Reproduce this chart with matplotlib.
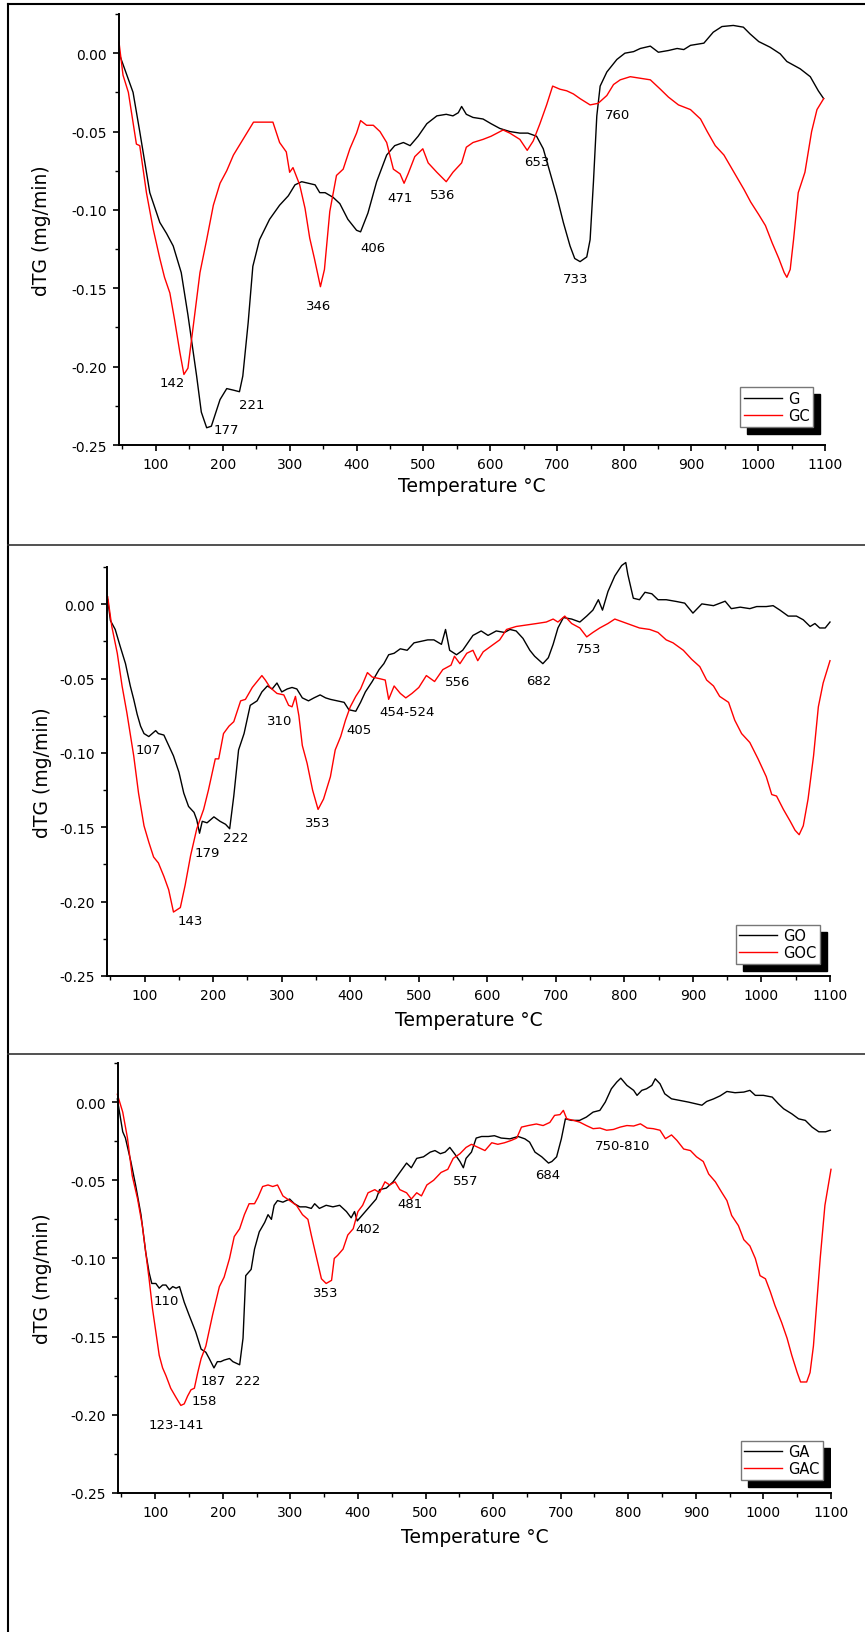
import matplotlib
matplotlib.use("Agg")
import matplotlib.pyplot as plt
from matplotlib.lines import Line2D
from matplotlib.patches import Shadow
from matplotlib.ticker import MultipleLocator, FormatStrFormatter

plt.rcParams['font.family'] = ['DejaVu Sans']
plt.rcParams['axes.unicode_minus'] = False

# ---- panel 1: G / GC ----
g_t = [45, 66, 76, 91, 106, 116, 126, 138, 148, 161,
       168, 176, 183, 196, 206, 216, 225, 230, 238, 245,
       255, 270, 285, 298, 308, 318, 328, 338, 345, 353,
       365, 375, 387, 400, 406, 417, 430, 445, 457, 470,
       480, 492, 505, 520, 534, 544, 552, 557, 564, 574,
       589, 601, 614, 629, 644, 656, 669, 679, 689, 699,
       709, 719, 726, 734, 744, 749, 754, 759, 764, 774,
       789, 801, 814, 824, 839, 851, 866, 879, 889, 899,
       919, 933, 946, 963, 978, 988, 1001, 1018, 1033, 1043,
       1063, 1078, 1090, 1098]
g_v = [0.000, -0.025, -0.050, -0.089, -0.108, -0.115, -0.123, -0.140, -0.167, -0.206,
       -0.229, -0.239, -0.238, -0.221, -0.214, -0.215, -0.216, -0.206, -0.172, -0.136,
       -0.119, -0.106, -0.097, -0.091, -0.084, -0.082, -0.083, -0.084, -0.089, -0.089,
       -0.092, -0.096, -0.106, -0.113, -0.114, -0.102, -0.082, -0.065, -0.059, -0.057,
       -0.059, -0.053, -0.045, -0.040, -0.039, -0.040, -0.038, -0.034, -0.039, -0.041,
       -0.042, -0.045, -0.048, -0.050, -0.051, -0.051, -0.053, -0.061, -0.076, -0.091,
       -0.108, -0.123, -0.131, -0.133, -0.130, -0.119, -0.082, -0.040, -0.021, -0.012,
       -0.004, 0.000, 0.001, 0.003, 0.0045, 0.0006, 0.0017, 0.003, 0.0023, 0.005,
       0.0064, 0.0134, 0.017, 0.0177, 0.0166, 0.0123, 0.0074, 0.0038, -0.0004, -0.0053,
       -0.010, -0.015, -0.024, -0.029]

gc_t = [45, 51, 59, 71, 76, 86, 96, 106, 113, 121,
        128, 136, 142, 148, 156, 166, 176, 186, 196, 206,
        216, 226, 236, 246, 256, 265, 275, 285, 295, 300,
        305, 315, 323, 330, 337, 346, 352, 360, 370, 380,
        390, 400, 406, 415, 425, 435, 445, 455, 465, 471,
        477, 487, 499, 507, 520, 534, 544, 557, 564, 574,
        589, 601, 619, 629, 644, 655, 664, 674, 684, 693,
        704, 714, 724, 734, 749, 761, 774, 784, 794, 809,
        824, 839, 854, 866, 881, 899, 914, 924, 936, 949,
        964, 979, 989, 1001, 1011, 1021, 1031, 1039, 1043, 1048,
        1053, 1060, 1070, 1080, 1088, 1098]
gc_v = [0.007, -0.014, -0.025, -0.058, -0.059, -0.089, -0.112, -0.131, -0.143, -0.153,
        -0.170, -0.191, -0.205, -0.201, -0.174, -0.140, -0.119, -0.097, -0.083, -0.075,
        -0.065, -0.058, -0.051, -0.044, -0.044, -0.044, -0.044, -0.057, -0.063, -0.076,
        -0.073, -0.084, -0.099, -0.118, -0.131, -0.149, -0.138, -0.101, -0.078, -0.074,
        -0.061, -0.051, -0.043, -0.046, -0.046, -0.050, -0.057, -0.074, -0.077, -0.083,
        -0.077, -0.066, -0.061, -0.070, -0.076, -0.082, -0.076, -0.070, -0.060, -0.057,
        -0.055, -0.053, -0.049, -0.051, -0.055, -0.062, -0.056, -0.045, -0.033, -0.021,
        -0.023, -0.024, -0.026, -0.029, -0.033, -0.032, -0.027, -0.020, -0.017, -0.015,
        -0.016, -0.017, -0.023, -0.028, -0.033, -0.036, -0.042, -0.050, -0.059, -0.065,
        -0.076, -0.087, -0.095, -0.103, -0.110, -0.121, -0.131, -0.140, -0.143, -0.138,
        -0.119, -0.089, -0.076, -0.050, -0.036, -0.029]

# ---- panel 2: GO / GOC ----
go_t = [46, 50, 57, 64, 72, 79, 84, 89, 94, 99,
        106, 111, 116, 120, 128, 135, 142, 150, 157, 164,
        172, 176, 180, 184, 191, 201, 210, 218, 224, 230,
        237, 245, 254, 264, 271, 279, 286, 293, 300, 308,
        315, 322, 330, 339, 347, 356, 364, 371, 381, 391,
        398, 408, 415, 422, 432, 442, 449, 456, 464, 473,
        483, 493, 503, 513, 522, 533, 539, 545, 555, 564,
        579, 591, 601, 613, 625, 633, 642, 652, 662, 669,
        681, 689, 696, 703, 711, 723, 735, 745, 754, 762,
        768, 776, 786, 796, 802, 805, 813, 822, 830, 840,
        849, 861, 876, 888, 900, 913, 930, 947, 956, 969,
        983, 993, 1007, 1017, 1027, 1039, 1051, 1061, 1071, 1078,
        1085, 1093, 1100]
go_v = [0.003, -0.011, -0.017, -0.028, -0.040, -0.055, -0.064, -0.074, -0.082, -0.087,
        -0.089, -0.087, -0.085, -0.087, -0.088, -0.095, -0.102, -0.113, -0.127, -0.136,
        -0.140, -0.145, -0.154, -0.146, -0.147, -0.143, -0.146, -0.148, -0.151, -0.129,
        -0.098, -0.087, -0.068, -0.065, -0.059, -0.055, -0.057, -0.053, -0.059, -0.057,
        -0.056, -0.057, -0.063, -0.065, -0.063, -0.061, -0.063, -0.064, -0.065, -0.066,
        -0.071, -0.072, -0.066, -0.059, -0.052, -0.044, -0.040, -0.034, -0.033, -0.030,
        -0.031, -0.026, -0.025, -0.024, -0.024, -0.027, -0.017, -0.031, -0.034, -0.031,
        -0.021, -0.018, -0.021, -0.018, -0.019, -0.017, -0.018, -0.023, -0.031, -0.035,
        -0.040, -0.036, -0.027, -0.016, -0.009, -0.010, -0.012, -0.008, -0.004, 0.003,
        -0.004, 0.0085, 0.019, 0.026, 0.028, 0.020, 0.004, 0.003, 0.008, 0.007,
        0.003, 0.003, 0.0018, 0.0007, -0.006, 0.0002, -0.001, 0.002, -0.003, -0.002,
        -0.003, -0.0016, -0.0016, -0.001, -0.004, -0.008, -0.008, -0.0105, -0.015, -0.013,
        -0.016, -0.016, -0.012]

goc_t = [46, 52, 60, 67, 74, 84, 91, 99, 106, 113,
         120, 128, 135, 142, 152, 159, 167, 176, 186, 193,
         203, 208, 215, 223, 230, 240, 247, 257, 264, 271,
         276, 283, 293, 303, 310, 315, 320, 325, 330, 337,
         345, 353, 361, 371, 378, 386, 393, 400, 408, 415,
         425, 432, 442, 451, 456, 464, 473, 481, 490, 500,
         511, 523, 535, 547, 552, 560, 570, 579, 586, 594,
         606, 618, 628, 642, 657, 672, 686, 696, 703, 713,
         723, 735, 745, 754, 764, 776, 786, 798, 810, 822,
         837, 849, 861, 871, 886, 898, 910, 920, 930, 939,
         952, 961, 971, 983, 995, 1007, 1015, 1022, 1032, 1042,
         1049, 1055, 1061, 1068, 1076, 1083, 1090, 1100]
goc_v = [0.005, -0.015, -0.033, -0.055, -0.073, -0.102, -0.127, -0.149, -0.160, -0.170,
         -0.174, -0.183, -0.192, -0.207, -0.204, -0.189, -0.169, -0.151, -0.138, -0.125,
         -0.104, -0.104, -0.087, -0.082, -0.079, -0.065, -0.064, -0.056, -0.052, -0.048,
         -0.051, -0.056, -0.060, -0.061, -0.068, -0.069, -0.062, -0.075, -0.095, -0.107,
         -0.125, -0.138, -0.131, -0.116, -0.098, -0.089, -0.078, -0.069, -0.062, -0.057,
         -0.046, -0.049, -0.050, -0.051, -0.064, -0.055, -0.060, -0.063, -0.060, -0.056,
         -0.048, -0.052, -0.044, -0.041, -0.035, -0.040, -0.033, -0.031, -0.038, -0.032,
         -0.028, -0.024, -0.017, -0.015, -0.014, -0.013, -0.012, -0.010, -0.012, -0.008,
         -0.013, -0.016, -0.022, -0.019, -0.016, -0.013, -0.010, -0.012, -0.014, -0.016,
         -0.017, -0.019, -0.024, -0.026, -0.031, -0.037, -0.042, -0.051, -0.055, -0.062,
         -0.066, -0.078, -0.087, -0.093, -0.104, -0.116, -0.128, -0.129, -0.138, -0.146,
         -0.152, -0.155, -0.149, -0.131, -0.102, -0.069, -0.053, -0.038]

# ---- panel 3: GA / GAC ----
ga_t = [44, 48, 52, 56, 64, 71, 79, 86, 91, 95,
        101, 106, 111, 116, 121, 126, 131, 136, 143, 150,
        160, 168, 175, 180, 187, 192, 197, 202, 210, 215,
        220, 225, 230, 234, 242, 247, 254, 262, 267, 272,
        276, 281, 289, 299, 306, 314, 323, 331, 336, 343,
        353, 363, 373, 383, 390, 395, 399, 407, 417, 427,
        432, 442, 452, 462, 472, 479, 487, 497, 507, 514,
        522, 529, 536, 543, 551, 556, 560, 568, 575, 583,
        593, 602, 612, 625, 637, 647, 654, 662, 672, 682,
        687, 694, 701, 707, 716, 728, 738, 748, 758, 766,
        775, 783, 789, 798, 808, 813, 820, 827, 835, 840,
        847, 854, 864, 877, 889, 899, 909, 916, 926, 936,
        946, 958, 971, 980, 988, 1000, 1013, 1022, 1030, 1042,
        1052, 1062, 1072, 1082, 1092, 1099]
ga_v = [0.002, -0.0085, -0.019, -0.023, -0.038, -0.053, -0.072, -0.096, -0.109, -0.116,
        -0.116, -0.119, -0.117, -0.117, -0.120, -0.118, -0.119, -0.118, -0.128, -0.136,
        -0.147, -0.158, -0.160, -0.164, -0.170, -0.166, -0.166, -0.165, -0.164, -0.166,
        -0.167, -0.168, -0.151, -0.111, -0.107, -0.094, -0.083, -0.077, -0.072, -0.075,
        -0.066, -0.063, -0.064, -0.062, -0.065, -0.067, -0.067, -0.068, -0.065, -0.068,
        -0.066, -0.067, -0.066, -0.070, -0.074, -0.070, -0.076, -0.072, -0.067, -0.062,
        -0.056, -0.055, -0.051, -0.045, -0.039, -0.042, -0.036, -0.035, -0.032, -0.031,
        -0.033, -0.032, -0.029, -0.033, -0.038, -0.042, -0.036, -0.032, -0.023, -0.022,
        -0.022, -0.0215, -0.023, -0.0235, -0.022, -0.0235, -0.0256, -0.032, -0.035, -0.039,
        -0.038, -0.035, -0.0235, -0.0107, -0.0117, -0.0117, -0.0096, -0.0064, -0.0053, 0.000,
        0.0085, 0.0128, 0.0153, 0.0107, 0.0075, 0.0043, 0.0075, 0.0085, 0.0107, 0.0149,
        0.0117, 0.0053, 0.0021, 0.001, 0.000, -0.001, -0.002, 0.0004, 0.002, 0.004,
        0.0068, 0.006, 0.0064, 0.0075, 0.0043, 0.0043, 0.0032, -0.001, -0.0043, -0.0075,
        -0.0107, -0.0117, -0.016, -0.019, -0.019, -0.018]

gac_t = [44, 52, 59, 66, 74, 81, 86, 91, 96, 101,
         106, 111, 116, 123, 131, 138, 143, 148, 153, 158,
         163, 168, 175, 185, 195, 202, 210, 217, 225, 232,
         239, 247, 252, 259, 267, 274, 281, 289, 299, 309,
         318, 326, 331, 338, 346, 353, 361, 365, 370, 378,
         385, 393, 400, 407, 415, 425, 432, 440, 447, 455,
         462, 472, 479, 487, 494, 502, 512, 523, 533, 541,
         551, 560, 568, 578, 588, 598, 607, 617, 627, 635,
         642, 652, 664, 674, 684, 691, 699, 704, 709, 719,
         728, 738, 748, 758, 768, 778, 788, 798, 808, 818,
         828, 837, 847, 855, 864, 872, 882, 892, 901, 911,
         919, 929, 938, 946, 953, 963, 971, 980, 988, 995,
         1003, 1010, 1017, 1027, 1035, 1042, 1050, 1055, 1064, 1069,
         1074, 1079, 1084, 1091, 1100]
gac_v = [0.005, -0.0064, -0.023, -0.047, -0.062, -0.079, -0.096, -0.113, -0.132, -0.147,
         -0.162, -0.170, -0.175, -0.183, -0.189, -0.194, -0.193, -0.188, -0.184, -0.183,
         -0.173, -0.164, -0.156, -0.136, -0.118, -0.112, -0.100, -0.086, -0.081, -0.072,
         -0.065, -0.065, -0.061, -0.054, -0.053, -0.054, -0.053, -0.060, -0.063, -0.066,
         -0.072, -0.075, -0.085, -0.098, -0.113, -0.116, -0.114, -0.100, -0.098, -0.094,
         -0.085, -0.081, -0.070, -0.066, -0.058, -0.056, -0.058, -0.051, -0.053, -0.051,
         -0.056, -0.058, -0.062, -0.058, -0.060, -0.053, -0.050, -0.045, -0.043, -0.036,
         -0.033, -0.029, -0.027, -0.029, -0.031, -0.026, -0.027, -0.026, -0.0245, -0.023,
         -0.016, -0.015, -0.014, -0.015, -0.013, -0.0085, -0.008, -0.0053, -0.0107, -0.0117,
         -0.0128, -0.015, -0.017, -0.0166, -0.018, -0.0175, -0.016, -0.015, -0.0153, -0.0139,
         -0.0166, -0.017, -0.018, -0.0234, -0.021, -0.0245, -0.030, -0.031, -0.035, -0.038,
         -0.046, -0.051, -0.0575, -0.063, -0.0725, -0.079, -0.088, -0.092, -0.100, -0.111,
         -0.113, -0.121, -0.130, -0.141, -0.151, -0.162, -0.173, -0.179, -0.179, -0.173,
         -0.156, -0.128, -0.100, -0.066, -0.043]

# peak labels: (text, temperature, dTG)
labels1 = [("142", 124, -0.210), ("177", 205, -0.240), ("221", 244, -0.224),
           ("346", 344, -0.161), ("406", 425, -0.124), ("471", 465, -0.092),
           ("536", 529, -0.090), ("653", 669, -0.069), ("733", 727, -0.144),
           ("760", 790, -0.039)]
labels2 = [("107", 105, -0.098), ("179", 192, -0.167), ("222", 233, -0.157),
           ("143", 167, -0.213), ("310", 297, -0.078), ("353", 352, -0.147),
           ("405", 412, -0.084), ("454-524", 483, -0.072), ("556", 557, -0.052),
           ("682", 675, -0.051), ("753", 748, -0.030)]
labels3 = [("110", 117, -0.127), ("187", 186, -0.178), ("222", 237, -0.178),
           ("158", 173, -0.191), ("123-141", 131, -0.206), ("353", 353, -0.122),
           ("402", 415, -0.081), ("481", 477, -0.065), ("557", 559, -0.050),
           ("684", 681, -0.046), ("750-810", 791, -0.028)]

W, H = 865, 1633
fig = plt.figure(figsize=(W / 100, H / 100), dpi=100)

# axes rectangles in pixels: left, top, right, bottom
panels = [
    dict(box=(119, 15, 825, 446), series=[(g_t, g_v, "G"), (gc_t, gc_v, "GC")],
         labels=labels1, leg=(0.983, 0.042), xlab_off=41),
    dict(box=(107, 568, 830, 977), series=[(go_t, go_v, "GO"), (goc_t, goc_v, "GOC")],
         labels=labels2, leg=(0.986, 0.029), xlab_off=43),
    dict(box=(118, 1064, 831, 1494), series=[(ga_t, ga_v, "GA"), (gac_t, gac_v, "GAC")],
         labels=labels3, leg=(0.989, 0.030), xlab_off=44),
]

for p in panels:
    l, t, r, b = p["box"]
    ax = fig.add_axes([l / W, 1 - b / H, (r - l) / W, (b - t) / H])
    (t1, v1, n1), (t2, v2, n2) = p["series"]
    ax.plot(t1, v1, color="black", lw=1.0, label=n1, clip_on=False)
    ax.plot(t2, v2, color="red", lw=1.0, label=n2, clip_on=False)

    ax.set_xlim(45, 1100)
    ax.set_ylim(-0.25, 0.025)
    ax.xaxis.set_major_locator(MultipleLocator(100))
    ax.xaxis.set_minor_locator(MultipleLocator(50))
    ax.yaxis.set_major_locator(MultipleLocator(0.05))
    ax.yaxis.set_minor_locator(MultipleLocator(0.025))
    ax.yaxis.set_major_formatter(FormatStrFormatter("%.2f"))
    for s in ("top", "right"):
        ax.spines[s].set_visible(False)
    for s in ("left", "bottom"):
        ax.spines[s].set_linewidth(1.4)
    ax.tick_params(which="major", direction="out", length=4.5, width=1.2, labelsize=10, pad=4)
    ax.tick_params(which="minor", direction="out", length=3, width=1.0)

    ax.set_xlabel("Temperature \u00b0C", fontsize=13.5)
    ax.set_ylabel("dTG (mg/min)", fontsize=13.5)
    ax.xaxis.set_label_coords(0.5, -p["xlab_off"] / (b - t))
    ax.xaxis.label.set_va("center")
    ax.yaxis.set_label_coords((42 - l) / (r - l), 0.5)
    ax.yaxis.label.set_va("center")

    for txt, x, y in p["labels"]:
        ax.text(x, y, txt, fontsize=9.5, ha="center", va="center")

    leg = ax.legend(loc="lower right", bbox_to_anchor=p["leg"], borderaxespad=0,
                    fancybox=False, framealpha=1, edgecolor="#777777",
                    fontsize=10.5, handlelength=2.6, handletextpad=0.4,
                    borderpad=0.25, labelspacing=0.15)
    leg.get_frame().set_linewidth(1.0)
    sh = Shadow(leg.legendPatch, 5, -5, facecolor="black", edgecolor="black", alpha=1)
    sh.set_zorder(leg.get_zorder() - 0.01)
    ax.add_artist(sh)

# outer frame and panel separators
x0 = 8 / W
fig.add_artist(Line2D([x0, 1], [1 - 5 / H, 1 - 5 / H], transform=fig.transFigure, color="black", lw=1.5))
fig.add_artist(Line2D([x0, x0], [0, 1 - 5 / H], transform=fig.transFigure, color="black", lw=1.5))
for yp in (546, 1055):
    fig.add_artist(Line2D([x0, 1], [1 - yp / H, 1 - yp / H], transform=fig.transFigure,
                          color="#333333", lw=1.2))

fig.canvas.draw()
fig.savefig("out.png", dpi=100)
